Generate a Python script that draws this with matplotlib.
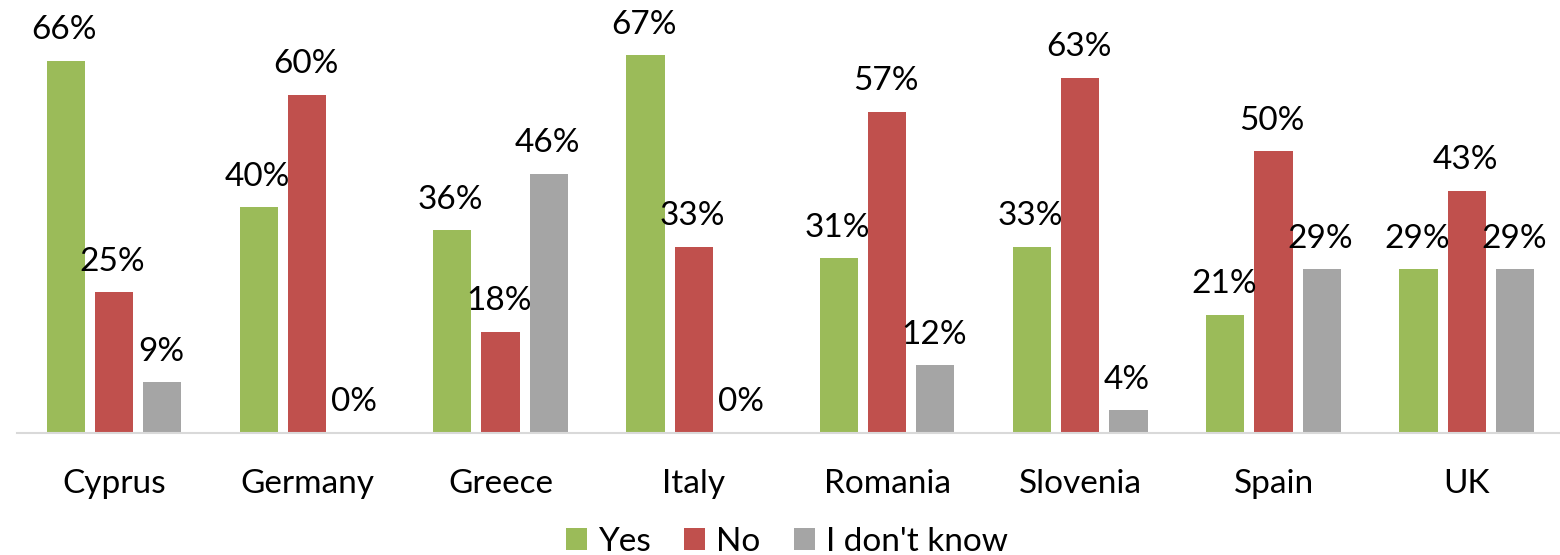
import numpy as np
import matplotlib
matplotlib.use("Agg")
import matplotlib.pyplot as plt

plt.rcParams['font.family'] = ['Lato', 'DejaVu Sans']

countries = ["Cyprus", "Germany", "Greece", "Italy", "Romania", "Slovenia", "Spain", "UK"]
series_names = ["Yes", "No", "I don't know"]
yes_vals = [66, 40, 36, 67, 31, 33, 21, 29]
no_vals = [25, 60, 18, 33, 57, 63, 50, 43]
dk_vals = [9, 0, 46, 0, 12, 4, 29, 29]
colors = ["#9BBB59", "#C0504D", "#A5A5A5"]

FS = 24
fig = plt.figure(figsize=(15.6, 5.55), dpi=100)
ax = fig.add_axes([17.4 / 1560, 122 / 555, 1546 / 1560, 433 / 555])

x = np.arange(len(countries))
offsets = [-0.25, 0.0, 0.25]
for vals, name, col, off in zip([yes_vals, no_vals, dk_vals], series_names, colors, offsets):
    bars = ax.bar(x + off, vals, width=0.198, color=col, label=name)
    for b, v in zip(bars, vals):
        ax.annotate(f"{v}%", (b.get_x() + b.get_width() / 2, v),
                    xytext=(-1, 15.5), textcoords="offset points",
                    ha="center", va="baseline", fontsize=FS)

ax.set_xlim(-0.5, len(countries) - 0.5)
ax.set_ylim(0, 76.8)
ax.set_xticks(x)
ax.set_xticklabels(countries, fontsize=FS)
ax.tick_params(axis="x", length=0, pad=26)
ax.set_yticks([])
for s in ["top", "right", "left"]:
    ax.spines[s].set_visible(False)
ax.spines["bottom"].set_color("#D9D9D9")
ax.spines["bottom"].set_linewidth(1.5)

fig.legend(loc="center", bbox_to_anchor=(787 / 1560, 13 / 555), ncol=3, frameon=False,
           fontsize=FS, handlelength=0.63, handleheight=0.63, handletextpad=0.33,
           columnspacing=1.0, borderpad=0)

fig.savefig("out.png", dpi=100)
